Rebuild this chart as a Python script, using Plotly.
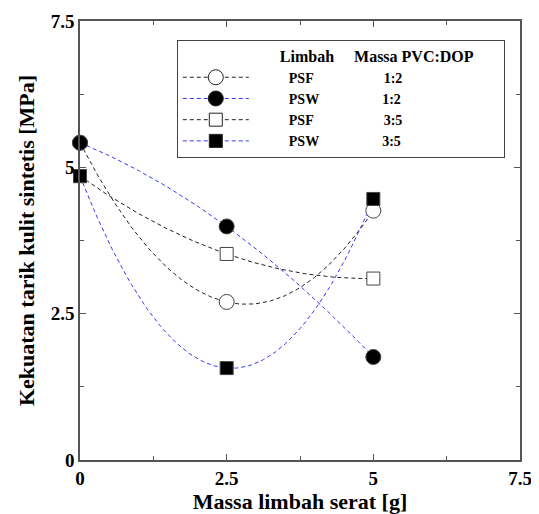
import numpy as np
import plotly.graph_objects as go

massa = [0, 2.5, 5]
psf_12 = [5.42, 2.70, 4.26]
psw_12 = [5.42, 3.99, 1.76]
psf_35 = [4.85, 3.52, 3.10]
psw_35 = [4.85, 1.57, 4.46]

limbah = ["PSF", "PSW", "PSF", "PSW"]
rasio = ["1:2", "1:2", "3:5", "3:5"]
series = [psf_12, psw_12, psf_35, psw_35]

x_ticks = [0, 2.5, 5, 7.5]
x_tick_labels = ["0", "2.5", "5", "7.5"]
y_ticks = [0, 2.5, 5, 7.5]
y_tick_labels = ["0", "2.5", "5", "7.5"]

BLACK = "#222222"
BLUE = "#3535ff"
styles = [
    dict(line=BLACK, symbol="circle", fill="white", size=15),
    dict(line=BLUE, symbol="circle", fill="black", size=15),
    dict(line=BLACK, symbol="square", fill="white", size=13),
    dict(line=BLUE, symbol="square", fill="black", size=13),
]
DASH = "4px,3px"
FONT = "Liberation Serif"
NB = "\u00a0"

fig = go.Figure()

xs = np.linspace(0, 5, 121)
for vals, st in zip(series, styles):
    coef = np.polyfit(massa, vals, 2)
    fig.add_trace(go.Scatter(x=xs, y=np.polyval(coef, xs), mode="lines",
                             line=dict(color=st["line"], width=1, dash=DASH),
                             showlegend=False, hoverinfo="skip", cliponaxis=False))

for vals, st in zip(series, styles):
    fig.add_trace(go.Scatter(x=massa, y=vals, mode="markers", cliponaxis=False,
                             marker=dict(symbol=st["symbol"], size=st["size"], color=st["fill"],
                                         line=dict(color="#444444", width=1)),
                             showlegend=False))

pads = {"PSF": 20, "PSW": 18}
for lb, rs, st in zip(limbah, rasio, styles):
    fig.add_trace(go.Scatter(x=[None], y=[None], mode="lines+markers",
                             name=NB * 10 + lb + NB * pads[lb] + rs,
                             line=dict(color=st["line"], width=1, dash=DASH),
                             marker=dict(symbol=st["symbol"], size=st["size"], color=st["fill"],
                                         line=dict(color="#222222", width=1))))

axis_common = dict(showline=True, linecolor="#555555", linewidth=1.5, mirror="ticks",
                   ticks="inside", ticklen=6, tickcolor="#555555", showgrid=False,
                   zeroline=False, automargin=False,
                   tickfont=dict(family=FONT, size=19, color="black", weight="bold"),
                   minor=dict(ticks="inside", ticklen=4, dtick=1.25, tickcolor="#555555"))

fig.update_xaxes(range=[0, 7.5], tickvals=x_ticks, ticktext=x_tick_labels,
                 title=dict(text="Massa limbah serat [g]", standoff=6,
                            font=dict(family=FONT, size=22, color="black", weight="bold")),
                 **axis_common)
fig.update_yaxes(range=[0, 7.5], tickvals=y_ticks, ticktext=y_tick_labels,
                 title=dict(text="Kekuatan tarik kulit sintetis [MPa]", standoff=10,
                            font=dict(family=FONT, size=22, color="black", weight="bold")),
                 **axis_common)

fig.update_layout(
    width=531, height=506,
    margin=dict(l=72, r=19, t=13, b=54),
    paper_bgcolor="white", plot_bgcolor="white",
    legend=dict(x=0.22, y=0.957, xanchor="left", yanchor="top",
                bordercolor="#444444", borderwidth=1, bgcolor="white",
                itemwidth=66, tracegroupgap=0,
                font=dict(family=FONT, size=14, color="black", weight="bold"),
                title=dict(text=NB * 25 + "Limbah" + NB * 5 + "Massa PVC:DOP" + NB * 7,
                           font=dict(family=FONT, size=16, color="black", weight="bold"))),
)

fig.write_html("out.html")
